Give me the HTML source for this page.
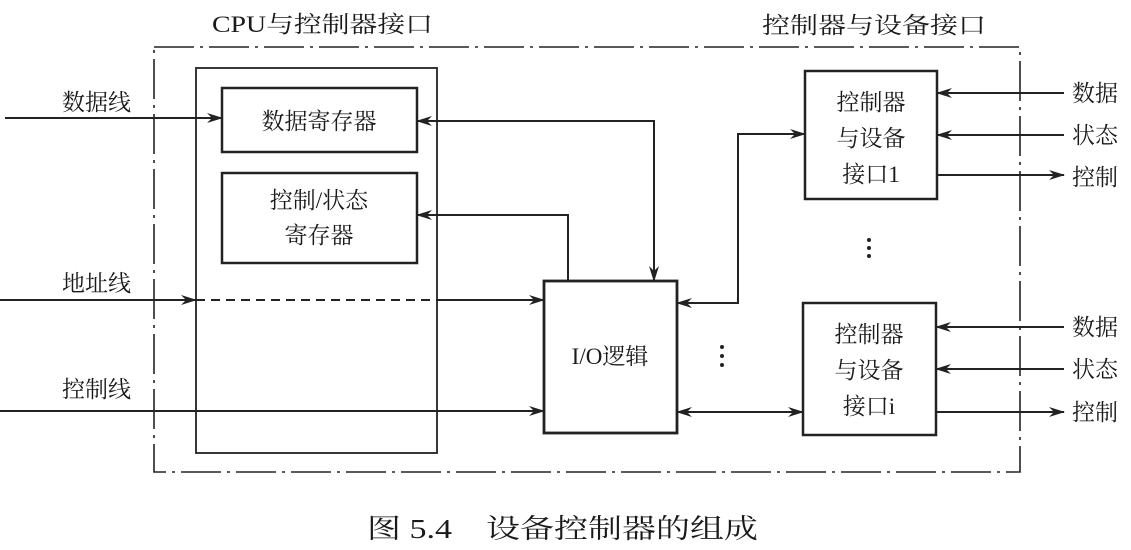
<!DOCTYPE html>
<html><head><meta charset="utf-8"><style>
html,body{margin:0;padding:0;background:#fff;}
svg{display:block;}
text{font-family:"Liberation Serif","Noto Serif CJK SC","Noto Sans CJK SC",serif;fill:#1a1a1a;}
</style></head><body>
<svg width="1131" height="550" viewBox="0 0 1131 550" xmlns="http://www.w3.org/2000/svg">
<defs>
<marker id="a" markerWidth="16" markerHeight="10" refX="15" refY="5" orient="auto-start-reverse" markerUnits="userSpaceOnUse">
<path d="M0,0 L16,5 L0,10 L5,5 Z" fill="#222"/>
</marker>
</defs>
<g stroke="#222" fill="none" stroke-width="2">
<!-- outer dash-dot -->
<rect x="154" y="47" width="866" height="425" stroke-width="1.6" stroke-dasharray="40,6,3,6"/>
<!-- inner box -->
<rect x="196" y="68" width="241" height="385" stroke-width="1.8"/>
<rect x="222" y="88" width="195" height="64" stroke-width="2.5"/>
<rect x="222" y="173" width="195" height="90" stroke-width="2.5"/>
<rect x="544" y="281" width="133" height="152" stroke-width="2.8"/>
<rect x="805" y="71" width="132" height="128" stroke-width="2.5"/>
<rect x="803" y="303" width="133" height="132" stroke-width="2.5"/>
<!-- lines -->
<line x1="5" y1="118" x2="222" y2="118" marker-end="url(#a)"/>
<polyline points="654,281 654,121 417,121" marker-start="url(#a)" marker-end="url(#a)"/>
<polyline points="568,281 568,215 417,215" marker-end="url(#a)"/>
<line x1="0" y1="300" x2="196" y2="300" marker-end="url(#a)"/>
<line x1="196" y1="300" x2="437" y2="300" stroke-dasharray="9,6"/>
<line x1="437" y1="300" x2="544" y2="300" marker-end="url(#a)"/>
<line x1="0" y1="411" x2="544" y2="411" marker-end="url(#a)"/>
<polyline points="677,303 738,303 738,134 805,134" marker-start="url(#a)" marker-end="url(#a)"/>
<line x1="677" y1="412" x2="803" y2="412" marker-start="url(#a)" marker-end="url(#a)"/>
<line x1="1064" y1="93" x2="937" y2="93" marker-end="url(#a)"/>
<line x1="1064" y1="135" x2="937" y2="135" marker-end="url(#a)"/>
<line x1="937" y1="175" x2="1064" y2="175" marker-end="url(#a)"/>
<line x1="1064" y1="327" x2="936" y2="327" marker-end="url(#a)"/>
<line x1="1064" y1="369" x2="936" y2="369" marker-end="url(#a)"/>
<line x1="936" y1="412" x2="1064" y2="412" marker-end="url(#a)"/>
</g>
<g fill="#222">
<circle cx="869" cy="240" r="2"/><circle cx="869" cy="248" r="2"/><circle cx="869" cy="256" r="2"/>
<circle cx="722" cy="347" r="2"/><circle cx="722" cy="356" r="2"/><circle cx="722" cy="365" r="2"/>
</g>
<g font-size="23">
<text x="212" y="32" textLength="221" lengthAdjust="spacingAndGlyphs">CPU与控制器接口</text>
<text x="762" y="33" textLength="224" lengthAdjust="spacingAndGlyphs">控制器与设备接口</text>
<text x="62" y="110">数据线</text>
<text x="62" y="291">地址线</text>
<text x="62" y="397">控制线</text>
<text x="319" y="129" text-anchor="middle">数据寄存器</text>
<text x="319" y="208" text-anchor="middle">控制/状态</text>
<text x="319" y="243" text-anchor="middle">寄存器</text>
<text x="610" y="364" text-anchor="middle">I/O逻辑</text>
<text x="871" y="110" text-anchor="middle">控制器</text>
<text x="871" y="146" text-anchor="middle">与设备</text>
<text x="871" y="182" text-anchor="middle">接口1</text>
<text x="869" y="342" text-anchor="middle">控制器</text>
<text x="869" y="378" text-anchor="middle">与设备</text>
<text x="869" y="414" text-anchor="middle">接口i</text>
<text x="1072" y="101">数据</text>
<text x="1072" y="143">状态</text>
<text x="1072" y="185">控制</text>
<text x="1072" y="335">数据</text>
<text x="1072" y="377">状态</text>
<text x="1072" y="420">控制</text>
</g>
<text x="367" y="538" font-size="27" textLength="391" lengthAdjust="spacingAndGlyphs">图 5.4　设备控制器的组成</text>
</svg>
</body></html>
